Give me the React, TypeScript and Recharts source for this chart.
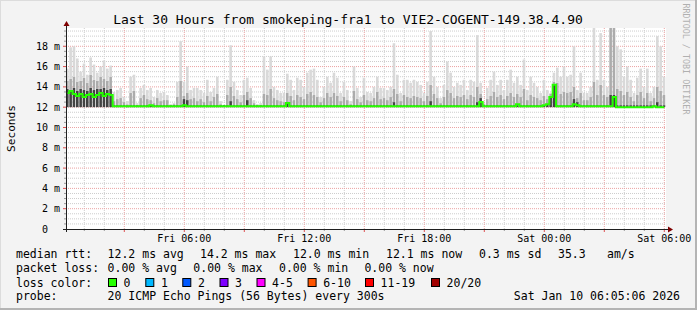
import React from 'react';
import { ComposedChart, Bar, Line, XAxis, YAxis, CartesianGrid } from 'recharts';

// smokeping probe, 10 minute buckets starting Fri 00:05:06 (hours since Fri 00:00)
const START_HOUR = 0.085;
const STEP_HOURS = 1 / 6;
const RTT_FLOOR = 12.0;

const rttMedian = [
  13.4, 13.6, 13.3, 13.1, 13.3, 13.0, 13.2, 13.3, 13.0, 13.2,
  13.4, 13.1, 13.3, 13.2, 12.1, 12.1, 12.1, 12.1, 12.1, 12.1,
  12.1, 12.1, 12.1, 12.1, 12.1, 12.2, 12.1, 12.1, 12.1, 12.1,
  12.1, 12.1, 12.1, 12.1, 12.1, 12.2, 12.1, 12.1, 12.1, 12.1,
  12.1, 12.1, 12.1, 12.1, 12.1, 12.1, 12.1, 12.1, 12.1, 12.1,
  12.1, 12.1, 12.1, 12.1, 12.1, 12.1, 12.1, 12.1, 12.1, 12.1,
  12.1, 12.1, 12.1, 12.1, 12.1, 12.1, 12.4, 12.1, 12.1, 12.1,
  12.1, 12.1, 12.1, 12.1, 12.1, 12.1, 12.1, 12.1, 12.1, 12.1,
  12.1, 12.1, 12.1, 12.1, 12.1, 12.1, 12.1, 12.1, 12.1, 12.1,
  12.1, 12.1, 12.1, 12.1, 12.1, 12.1, 12.1, 12.1, 12.1, 12.1,
  12.1, 12.1, 12.1, 12.1, 12.1, 12.1, 12.1, 12.1, 12.1, 12.1,
  12.1, 12.1, 12.1, 12.1, 12.1, 12.1, 12.1, 12.1, 12.1, 12.1,
  12.1, 12.1, 12.1, 12.1, 12.5, 12.1, 12.1, 12.1, 12.1, 12.1,
  12.1, 12.1, 12.1, 12.1, 12.1, 12.3, 12.1, 12.1, 12.1, 12.1,
  12.1, 12.1, 12.1, 12.2, 12.3, 13.0, 14.2, 12.1, 12.1, 12.1,
  12.1, 12.1, 12.3, 12.2, 12.1, 12.1, 12.1, 12.1, 12.1, 12.1,
  12.1, 12.1, 12.1, 12.1, 13.0, 12.0, 12.0, 12.0, 12.0, 12.0,
  12.0, 12.0, 12.0, 12.0, 12.0, 12.0, 12.1, 12.0, 12.0, 12.0,
];

// darkest smoke band top
const rttLow = [
  13.8, 13.7, 13.9, 13.6, 13.8, 13.7, 13.6, 13.9, 13.7, 13.8,
  13.8, 13.9, 13.7, 13.8, 12.2, 12.2, 12.2, 12.2, 12.2, 12.2,
  12.2, 12.2, 12.2, 12.2, 12.2, 12.2, 12.2, 12.2, 12.2, 12.2,
  12.2, 12.2, 12.2, 12.2, 12.2, 12.8, 12.7, 12.2, 12.2, 12.2,
  12.2, 12.2, 12.2, 12.2, 12.2, 12.2, 12.2, 12.2, 12.2, 12.6,
  12.2, 12.2, 12.2, 12.2, 12.7, 12.2, 12.2, 12.2, 12.2, 12.2,
  12.2, 12.2, 12.2, 12.2, 12.2, 12.2, 12.5, 12.2, 12.2, 12.2,
  12.2, 12.2, 12.2, 12.2, 12.2, 12.2, 12.2, 12.2, 12.2, 12.2,
  12.2, 12.2, 12.2, 12.2, 12.2, 12.2, 12.2, 12.2, 12.2, 12.2,
  12.2, 12.2, 12.2, 12.2, 12.2, 12.2, 12.2, 12.2, 12.5, 12.2,
  12.2, 12.2, 12.2, 12.2, 12.2, 12.2, 12.2, 12.2, 12.2, 12.6,
  12.2, 12.2, 12.2, 12.2, 12.2, 12.2, 12.2, 12.2, 12.2, 12.2,
  12.2, 12.2, 12.2, 12.5, 12.9, 12.2, 12.2, 12.2, 12.2, 12.2,
  12.2, 12.2, 12.2, 12.2, 12.2, 12.2, 12.2, 12.2, 12.2, 12.2,
  12.2, 12.2, 12.2, 12.2, 12.3, 13.1, 14.3, 12.2, 12.2, 12.2,
  12.2, 12.2, 12.8, 12.5, 12.2, 12.2, 12.2, 12.2, 12.2, 12.2,
  12.2, 12.2, 12.2, 13.2, 13.2, 12.2, 12.2, 12.2, 12.2, 12.2,
  12.2, 12.2, 12.2, 12.2, 12.2, 12.2, 12.2, 12.5, 12.2, 12.2,
];

// medium smoke band top
const rttMid = [
  14.6, 14.8, 15.0, 14.5, 14.6, 14.9, 14.4, 15.2, 14.7, 14.6,
  15.0, 14.8, 14.6, 15.0, 12.6, 12.8, 12.9, 12.5, 12.3, 13.4,
  13.6, 12.2, 12.9, 13.2, 12.8, 12.7, 12.4, 12.9, 12.6, 12.7,
  12.7, 12.2, 12.3, 13.0, 14.6, 13.1, 13.4, 12.8, 12.9, 12.6,
  12.8, 12.5, 13.1, 12.6, 13.0, 13.3, 12.3, 12.2, 13.2, 14.0,
  13.1, 12.8, 12.5, 13.2, 13.5, 12.9, 12.4, 12.2, 12.2, 13.3,
  13.2, 13.8, 12.9, 12.7, 12.6, 12.5, 13.4, 13.1, 12.7, 13.2,
  13.0, 12.8, 13.3, 13.5, 13.2, 13.0, 12.5, 12.9, 13.4, 13.0,
  13.4, 13.1, 12.6, 13.0, 12.7, 12.3, 13.6, 12.8, 12.5, 13.2,
  12.7, 12.6, 12.9, 13.5, 12.8, 12.9, 12.7, 13.0, 13.8, 13.3,
  12.6, 13.2, 13.0, 12.9, 13.1, 13.0, 12.9, 12.6, 13.1, 14.2,
  13.3, 12.9, 12.4, 13.0, 13.7, 13.4, 12.9, 13.1, 13.0, 13.2,
  12.8, 13.2, 13.0, 14.0, 13.3, 12.3, 12.8, 13.1, 13.5, 13.0,
  13.2, 12.8, 13.1, 13.4, 13.0, 13.3, 13.0, 13.8, 12.7, 13.2,
  13.0, 12.9, 12.7, 13.1, 12.8, 13.3, 14.5, 14.4, 13.3, 13.5,
  13.4, 13.5, 14.0, 12.9, 13.4, 12.7, 12.7, 13.0, 14.5, 13.2,
  14.2, 13.2, 13.0, 19.8, 19.8, 13.8, 13.6, 13.2, 13.5, 13.0,
  12.6, 13.2, 13.5, 12.9, 13.4, 12.6, 12.9, 14.0, 13.6, 13.2,
];

// lightest smoke band top (max)
const rttMax = [
  15.8, 17.9, 18.0, 16.8, 15.5, 16.3, 15.2, 16.9, 16.2, 15.4,
  16.0, 16.6, 15.8, 16.1, 13.5, 13.7, 13.9, 13.0, 12.6, 15.0,
  15.2, 12.4, 13.9, 14.2, 13.7, 13.9, 13.0, 13.7, 13.4, 13.5,
  13.2, 12.3, 12.4, 14.5, 18.5, 14.5, 16.0, 13.7, 13.9, 13.9,
  13.7, 13.4, 14.7, 13.5, 13.9, 15.0, 12.6, 12.2, 14.7, 18.1,
  14.5, 13.7, 13.2, 14.7, 14.9, 13.9, 12.7, 12.3, 12.4, 17.0,
  15.7, 17.0, 14.0, 13.7, 13.4, 13.4, 15.3, 14.7, 13.7, 14.9,
  14.7, 14.0, 15.4, 15.7, 15.8, 14.7, 13.0, 14.0, 15.0, 14.4,
  15.4, 14.9, 13.4, 14.5, 13.7, 12.6, 16.0, 13.9, 13.0, 14.9,
  13.5, 13.4, 14.0, 15.0, 13.9, 13.9, 13.7, 14.0, 18.3, 15.2,
  13.4, 14.7, 14.7, 14.4, 14.7, 14.5, 14.2, 13.4, 14.5, 19.5,
  15.0, 14.0, 12.9, 14.2, 16.5, 15.4, 14.0, 14.4, 14.2, 14.7,
  13.7, 14.7, 14.5, 19.1, 14.4, 12.4, 13.9, 14.7, 15.5, 14.2,
  14.7, 13.7, 14.7, 15.7, 14.4, 15.0, 14.2, 16.7, 13.7, 15.0,
  14.4, 14.0, 13.4, 14.7, 13.7, 13.4, 15.4, 15.9, 15.0, 16.0,
  15.0, 15.2, 18.0, 13.7, 15.4, 13.4, 13.4, 14.0, 19.8, 14.7,
  19.3, 14.7, 14.0, 19.8, 19.8, 18.0, 17.7, 15.0, 16.0, 14.7,
  13.4, 14.9, 15.8, 14.0, 15.8, 13.4, 14.0, 19.0, 18.0, 15.0,
];

const timeTicks = [6, 12, 18, 24, 30];
const timeLabels = ['Fri 06:00', 'Fri 12:00', 'Fri 18:00', 'Sat 00:00', 'Sat 06:00'];
const rttLabelTicks = [0, 2, 4, 6, 8, 10, 12, 14, 16, 18];

const medianStats = ['12.2 ms avg', '14.2 ms max', '12.0 ms min', '12.1 ms now', '0.3 ms sd', '35.3', 'am/s'];
const lossStats = ['0.00 % avg', '0.00 % max', '0.00 % min', '0.00 % now'];
const lossLabels = ['0', '1', '2', '3', '4-5', '6-10', '11-19', '20/20'];
const lossColors = ['#26ff00', '#00b8ff', '#0059ff', '#7e00ff', '#ff00ff', '#ff5500', '#ff0000', '#a10000'];

const hourGrid: number[] = [];
for (let h = 1; h <= 30; h++) hourGrid.push(h);
const rttGrid: number[] = [];
for (let v = 0; v <= 19.5; v += 0.5) rttGrid.push(v);

// each bucket is placed at its centre
const rows = rttMedian.map((m, i) => ({
  t: START_HOUR + (i + 0.5) * STEP_HOURS,
  floor: RTT_FLOOR,
  low: rttLow[i] - RTT_FLOOR,
  mid: rttMid[i] - rttLow[i],
  high: rttMax[i] - rttMid[i],
  median: m,
}));

const MONO = '"DejaVu Sans Mono", monospace';

const TimeTick = (props: any) => {
  const { x, payload } = props;
  const h = payload.value;
  const major = h % 3 === 0;
  const idx = timeTicks.indexOf(h);
  return (
    <g>
      <line x1={x} x2={x} y1={229} y2={major ? 232 : 231} stroke={major ? '#de5050' : '#9a9a9a'} />
      {idx >= 0 && (
        <text x={x} y={241.5} textAnchor="middle" fontFamily={MONO} fontSize={10} fill="#000">
          {timeLabels[idx]}
        </text>
      )}
    </g>
  );
};

const RttTick = (props: any) => {
  const { y, payload } = props;
  const v = payload.value;
  const major = v % 2 === 0;
  const labelled = rttLabelTicks.includes(v);
  return (
    <g>
      {v > 0 && <line x1={major ? 63 : 64} x2={66} y1={y} y2={y} stroke={major ? '#de5050' : '#9a9a9a'} />}
      {labelled && (
        <text
          x={60}
          y={y + 3.5}
          textAnchor="end"
          fontFamily={MONO}
          fontSize={10}
          fill="#000"
          xmlSpace="preserve"
          style={{ whiteSpace: 'pre' }}
        >
          {v === 0 ? '0  ' : `${v} m`}
        </text>
      )}
    </g>
  );
};

const legendFont = { fontFamily: MONO, fontSize: 11.5, fill: '#000' };

export default function App() {
  const statX = [107.6, 200, 293, 386, 479, 558, 607];
  const lossX = [107.6, 193.3, 279, 364.4];
  const swatchX = [108, 145.3, 182.3, 219.5, 256.5, 307.6, 365, 431];

  return (
    <div style={{ position: 'absolute', left: 0, top: 0, width: 697, height: 310, background: '#f3f3f3' }}>
      <ComposedChart
        width={697}
        height={310}
        data={rows}
        margin={{ top: 28, right: 31, bottom: 61, left: 0 }}
        barGap={0}
      >
        <CartesianGrid
          fill="#ffffff"
          stroke="#cdcdcd"
          strokeDasharray="1 1"
          horizontalValues={rttGrid.filter((v) => v % 2 !== 0)}
          verticalValues={hourGrid.filter((h) => h % 3 !== 0)}
        />
        <CartesianGrid
          stroke="#eba3a3"
          strokeDasharray="1 1"
          horizontalValues={rttGrid.filter((v) => v > 0 && v % 2 === 0)}
          verticalValues={hourGrid.filter((h) => h % 3 === 0)}
        />
        <XAxis
          dataKey="t"
          type="number"
          domain={[START_HOUR, START_HOUR + 30]}
          allowDataOverflow
          ticks={hourGrid}
          interval={0}
          tick={(p: any) => <TimeTick {...p} />}
          axisLine={false}
          tickLine={false}
          height={20}
        />
        <YAxis
          type="number"
          domain={[0, 19.8]}
          allowDataOverflow
          ticks={rttGrid}
          interval={0}
          tick={(p: any) => <RttTick {...p} />}
          axisLine={false}
          tickLine={false}
          width={66}
        />
        <Bar dataKey="floor" stackId="smoke" fill="none" barSize={2.6} isAnimationActive={false} />
        <Bar dataKey="low" stackId="smoke" fill="#434343" barSize={2.6} isAnimationActive={false} />
        <Bar dataKey="mid" stackId="smoke" fill="#acacac" barSize={2.6} isAnimationActive={false} />
        <Bar dataKey="high" stackId="smoke" fill="#d9d9d9" barSize={2.6} isAnimationActive={false} />
        <Line type="step" dataKey="median" stroke="#26ff00" strokeWidth={2} dot={false} activeDot={false} isAnimationActive={false} />
      </ComposedChart>

      <svg width={697} height={310} style={{ position: 'absolute', left: 0, top: 0, pointerEvents: 'none' }}>
        {/* frame */}
        <rect x={0} y={0} width={697} height={1} fill="#dcdcdc" />
        <rect x={0} y={0} width={1} height={310} fill="#dcdcdc" />
        <rect x={695} y={0} width={2} height={310} fill="#b4b4b4" />
        <rect x={0} y={308} width={697} height={2} fill="#b4b4b4" />

        <text x={348} y={24} textAnchor="middle" fontFamily={MONO} fontSize={13} fill="#000">
          Last 30 Hours from smokeping-fra1 to VIE2-COGENT-149.38.4.90
        </text>
        <text
          x={683}
          y={59}
          textAnchor="middle"
          fontFamily={MONO}
          fontSize={8.4}
          fill="#b0b0b0"
          transform="rotate(90 683 59)"
        >
          RRDTOOL / TOBI OETIKER
        </text>
        <text
          x={15}
          y={128.5}
          textAnchor="middle"
          fontFamily={MONO}
          fontSize={11.1}
          fill="#000"
          transform="rotate(-90 15 128.5)"
        >
          Seconds
        </text>

        {/* axes with arrows */}
        <line x1={63} x2={668} y1={229.5} y2={229.5} stroke="#202020" />
        <polygon points="668,226.5 668,232.5 673,229.5" fill="#7f0000" />
        <line x1={66.5} x2={66.5} y1={232} y2={26} stroke="#202020" />
        <polygon points="63.5,26 69.5,26 66.5,21" fill="#7f0000" />

        {/* legend */}
        <text x={16} y={258} {...legendFont}>median rtt:</text>
        {medianStats.map((s, i) => (
          <text key={s} x={statX[i]} y={258} {...legendFont}>{s}</text>
        ))}
        <text x={16} y={272} {...legendFont}>packet loss:</text>
        {lossStats.map((s, i) => (
          <text key={s} x={lossX[i]} y={272} {...legendFont}>{s}</text>
        ))}
        <text x={16} y={286.5} {...legendFont}>loss color:</text>
        {lossLabels.map((s, i) => (
          <g key={s}>
            <rect x={swatchX[i] + 0.5} y={278.5} width={8} height={8} fill={lossColors[i]} stroke="#000" />
            <text x={swatchX[i] + 15.6} y={286.5} {...legendFont}>{s}</text>
          </g>
        ))}
        <text x={16} y={300} {...legendFont}>probe:</text>
        <text x={107.6} y={300} {...legendFont}>20 ICMP Echo Pings (56 Bytes) every 300s</text>
        <text x={680} y={300} textAnchor="end" {...legendFont}>Sat Jan 10 06:05:06 2026</text>
      </svg>
    </div>
  );
}
